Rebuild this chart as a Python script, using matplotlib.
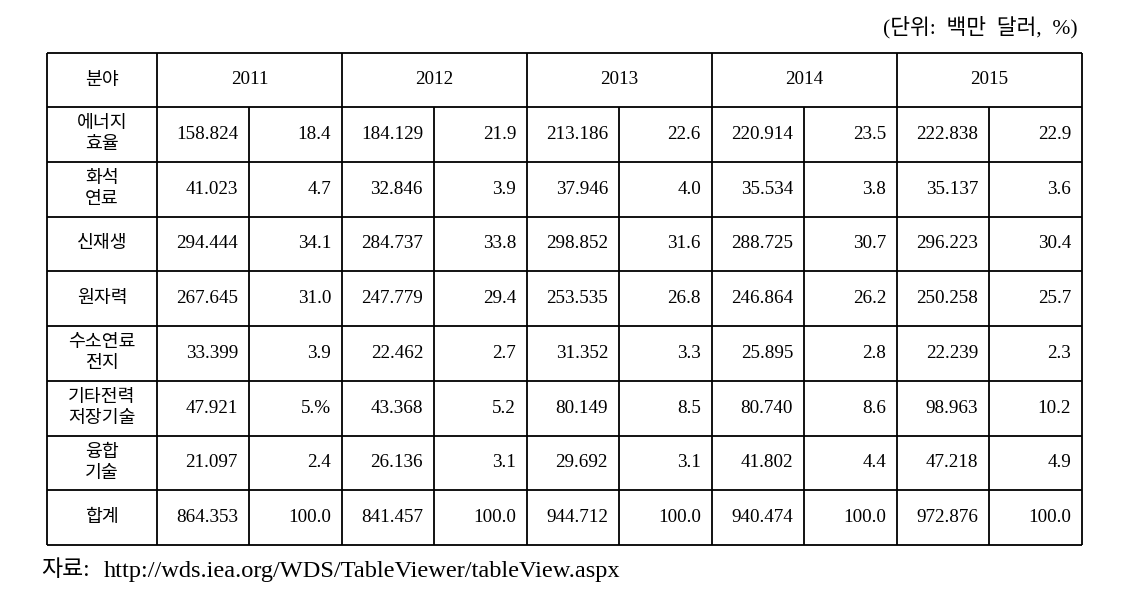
import matplotlib
matplotlib.use("Agg")
import matplotlib.pyplot as plt

# ---- Table data ----
fields = ["에너지\n효율", "화석\n연료", "신재생", "원자력", "수소연료\n전지",
          "기타전력\n저장기술", "융합\n기술", "합계"]
years = ["2011", "2012", "2013", "2014", "2015"]

amount = {
    "2011": ["158.824", "41.023", "294.444", "267.645", "33.399", "47.921", "21.097", "864.353"],
    "2012": ["184.129", "32.846", "284.737", "247.779", "22.462", "43.368", "26.136", "841.457"],
    "2013": ["213.186", "37.946", "298.852", "253.535", "31.352", "80.149", "29.692", "944.712"],
    "2014": ["220.914", "35.534", "288.725", "246.864", "25.895", "80.740", "41.802", "940.474"],
    "2015": ["222.838", "35.137", "296.223", "250.258", "22.239", "98.963", "47.218", "972.876"],
}
share = {
    "2011": ["18.4", "4.7", "34.1", "31.0", "3.9", "5.%", "2.4", "100.0"],
    "2012": ["21.9", "3.9", "33.8", "29.4", "2.7", "5.2", "3.1", "100.0"],
    "2013": ["22.6", "4.0", "31.6", "26.8", "3.3", "8.5", "3.1", "100.0"],
    "2014": ["23.5", "3.8", "30.7", "26.2", "2.8", "8.6", "4.4", "100.0"],
    "2015": ["22.9", "3.6", "30.4", "25.7", "2.3", "10.2", "4.9", "100.0"],
}

unit_note = "(단위:  백만  달러,  %)"
source_label = "자료:"
source_url = "http://wds.iea.org/WDS/TableViewer/tableView.aspx"

FAM = ["Liberation Serif", "Noto Sans CJK KR"]
FS = 13.2      # korean labels
FS_NUM = 13.8  # numbers

# ---- Layout (pixels) ----
x_left, x_field = 47, 157
amt_w, shr_w = 92, 93
y_top, head_h, row_h = 53, 54, 54.75

fig = plt.figure(figsize=(11.32, 6.02), dpi=100)
ax = fig.add_axes([0, 0, 1, 1])
ax.set_xlim(0, 1132)
ax.set_ylim(602, 0)
ax.axis("off")

col_edges = [x_left, x_field]
for _ in years:
    col_edges.append(col_edges[-1] + amt_w)
    col_edges.append(col_edges[-1] + shr_w)
x_right = col_edges[-1]

row_edges = [y_top, y_top + head_h]
for _ in fields:
    row_edges.append(row_edges[-1] + row_h)
y_bottom = row_edges[-1]

lw = 1.3
for y in row_edges:
    ax.plot([x_left, x_right], [y, y], color="black", lw=lw, solid_capstyle="butt")
for i, x in enumerate(col_edges):
    # split lines between amount/share do not cross the header row
    y0 = y_top if i < 2 or i % 2 == 1 else row_edges[1]
    ax.plot([x, x], [y0, y_bottom], color="black", lw=lw, solid_capstyle="butt")

# header
ax.text((x_left + x_field) / 2, (row_edges[0] + row_edges[1]) / 2, "분야",
        ha="center", va="center", fontsize=FS, family=FAM)
for j, yr in enumerate(years):
    xa, xb = col_edges[1 + 2 * j], col_edges[3 + 2 * j]
    ax.text((xa + xb) / 2, (row_edges[0] + row_edges[1]) / 2, yr,
            ha="center", va="center", fontsize=FS_NUM, family=FAM)

# body
pad = 11
for i, name in enumerate(fields):
    yc = (row_edges[i + 1] + row_edges[i + 2]) / 2
    ax.text((x_left + x_field) / 2, yc, name, ha="center", va="center",
            fontsize=FS, family=FAM, linespacing=1.3)
    for j, yr in enumerate(years):
        xa = col_edges[2 + 2 * j]
        xb = col_edges[3 + 2 * j]
        ax.text(xa - pad, yc, amount[yr][i], ha="right", va="center",
                fontsize=FS_NUM, family=FAM)
        ax.text(xb - pad, yc, share[yr][i], ha="right", va="center",
                fontsize=FS_NUM, family=FAM)

ax.text(1078, 27, unit_note, ha="right", va="center", fontsize=15.5, family=FAM)
ax.text(41, 571, source_label, ha="left", va="center", fontsize=16.5, family=FAM)
ax.text(104, 571, source_url, ha="left", va="center", fontsize=17.6, family=FAM)

fig.savefig("out.png", dpi=100, facecolor="white")
